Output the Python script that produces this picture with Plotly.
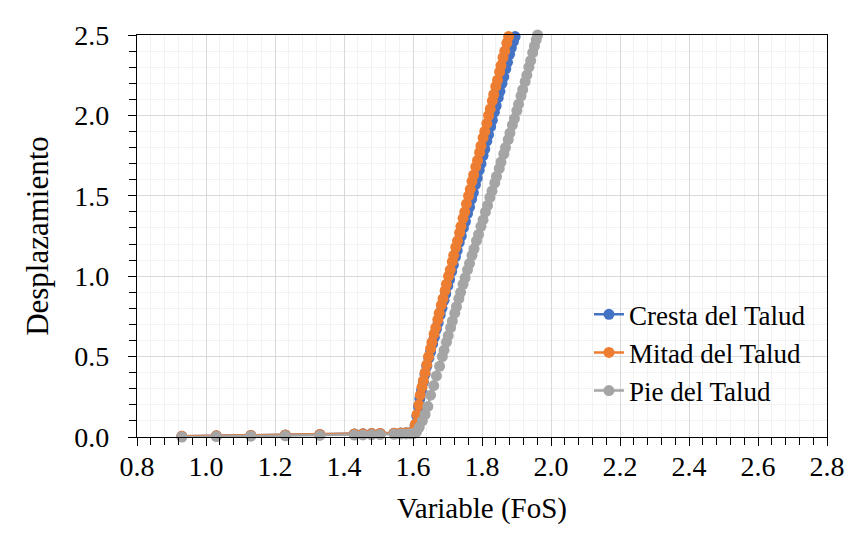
import plotly.graph_objects as go

# ---- data ----
flat_fos = [0.93, 1.03, 1.13, 1.23, 1.33, 1.43, 1.455, 1.48, 1.505, 1.545, 1.565, 1.58, 1.592]
cresta_flat_d = [0.004, 0.007, 0.010, 0.013, 0.016, 0.019, 0.020, 0.021, 0.022, 0.024, 0.025, 0.026, 0.027]
mitad_flat_d = [0.004, 0.007, 0.010, 0.013, 0.016, 0.019, 0.020, 0.021, 0.022, 0.024, 0.025, 0.026, 0.027]
pie_flat_d = [0.000, 0.003, 0.005, 0.007, 0.010, 0.012, 0.013, 0.014, 0.015, 0.017, 0.018, 0.019, 0.020]

cresta_rise_fos = [1.602, 1.606, 1.611, 1.616, 1.620, 1.625, 1.630, 1.635, 1.640, 1.646,
                   1.651, 1.657, 1.662, 1.668, 1.673, 1.679, 1.684, 1.690, 1.695, 1.701,
                   1.706, 1.712, 1.717, 1.723, 1.728, 1.734, 1.740, 1.746, 1.752, 1.758,
                   1.764, 1.770, 1.775, 1.781, 1.786, 1.792, 1.797, 1.803, 1.808, 1.814,
                   1.819, 1.825, 1.830, 1.836, 1.841, 1.847, 1.852, 1.858, 1.863, 1.869,
                   1.874, 1.880, 1.885, 1.891, 1.896]
cresta_rise_d = [0.03, 0.07, 0.13, 0.19, 0.24, 0.29, 0.34, 0.39, 0.44, 0.49,
                 0.53, 0.58, 0.62, 0.67, 0.71, 0.76, 0.80, 0.85, 0.89, 0.94,
                 0.98, 1.03, 1.07, 1.12, 1.16, 1.21, 1.25, 1.30, 1.34, 1.39,
                 1.43, 1.48, 1.52, 1.57, 1.61, 1.66, 1.70, 1.75, 1.79, 1.84,
                 1.88, 1.93, 1.97, 2.02, 2.06, 2.11, 2.15, 2.20, 2.24, 2.29,
                 2.33, 2.38, 2.42, 2.46, 2.49]

mitad_rise_fos = [1.603, 1.607, 1.612, 1.617, 1.621, 1.626, 1.630, 1.635, 1.640, 1.645,
                  1.651, 1.655, 1.661, 1.666, 1.672, 1.676, 1.682, 1.687, 1.693, 1.697,
                  1.703, 1.708, 1.714, 1.718, 1.724, 1.729, 1.735, 1.739, 1.745, 1.750,
                  1.755, 1.761, 1.766, 1.771, 1.776, 1.782, 1.787, 1.793, 1.797, 1.803,
                  1.808, 1.814, 1.819, 1.824, 1.830, 1.834, 1.840, 1.845, 1.851, 1.855,
                  1.861, 1.866, 1.872, 1.877]
mitad_rise_d = [0.04, 0.08, 0.14, 0.20, 0.26, 0.31, 0.35, 0.40, 0.45, 0.50,
                0.55, 0.59, 0.64, 0.68, 0.73, 0.77, 0.82, 0.86, 0.91, 0.95,
                1.00, 1.04, 1.09, 1.13, 1.18, 1.22, 1.27, 1.31, 1.36, 1.40,
                1.45, 1.50, 1.54, 1.59, 1.63, 1.68, 1.72, 1.77, 1.81, 1.86,
                1.90, 1.95, 2.00, 2.04, 2.09, 2.13, 2.18, 2.22, 2.27, 2.31,
                2.36, 2.40, 2.45, 2.49]

pie_rise_fos = [1.600, 1.610, 1.618, 1.627, 1.635, 1.643, 1.651, 1.660, 1.668, 1.677,
                1.685, 1.690, 1.697, 1.702, 1.709, 1.714, 1.721, 1.726, 1.733, 1.738,
                1.745, 1.751, 1.758, 1.764, 1.771, 1.777, 1.784, 1.790, 1.797, 1.803,
                1.810, 1.816, 1.823, 1.829, 1.837, 1.842, 1.850, 1.855, 1.863, 1.868,
                1.876, 1.881, 1.888, 1.894, 1.901, 1.906, 1.913, 1.918, 1.925, 1.930,
                1.936, 1.941, 1.947, 1.952, 1.957, 1.961]
pie_rise_d = [0.02, 0.03, 0.06, 0.10, 0.14, 0.19, 0.26, 0.32, 0.38, 0.44,
              0.50, 0.54, 0.59, 0.63, 0.68, 0.72, 0.77, 0.81, 0.86, 0.90,
              0.95, 0.99, 1.04, 1.08, 1.13, 1.17, 1.22, 1.26, 1.31, 1.35,
              1.40, 1.44, 1.49, 1.53, 1.58, 1.62, 1.67, 1.71, 1.76, 1.80,
              1.85, 1.89, 1.94, 1.98, 2.03, 2.07, 2.12, 2.16, 2.21, 2.25,
              2.30, 2.34, 2.39, 2.43, 2.47, 2.50]

series = [
    ("Cresta del Talud", "#4472C4", flat_fos + cresta_rise_fos, cresta_flat_d + cresta_rise_d),
    ("Mitad del Talud", "#ED7D31", flat_fos + mitad_rise_fos, mitad_flat_d + mitad_rise_d),
    ("Pie del Talud", "#A5A5A5", flat_fos + pie_rise_fos, pie_flat_d + pie_rise_d),
]

FONT = "Liberation Serif, Times New Roman, serif"

fig = go.Figure()
for i, (name, color, xs, ys) in enumerate(series):
    fig.add_trace(go.Scatter(
        x=xs, y=ys, name=name, mode="lines+markers",
        line=dict(color=color, width=2.5),
        marker=dict(color=color, size=11),
        cliponaxis=False, legendgroup=f"g{i}",
    ))

axis_common = dict(
    showline=True, linecolor="black", linewidth=1.2, mirror=True,
    ticks="outside", ticklen=8, tickcolor="black", tickwidth=1.2,
    showgrid=True, gridcolor="#d9d9d9", gridwidth=1,
    zeroline=False,
    tickfont=dict(family=FONT, size=28, color="black"),
)

fig.update_xaxes(
    range=[0.8, 2.8], dtick=0.2, tick0=0.8, tickformat=".1f",
    minor=dict(dtick=0.04, showgrid=True, gridcolor="#f2f2f2", ticks="outside",
               ticklen=7, tickcolor="black", tickwidth=1.2),
    title=dict(text="Variable (FoS)", font=dict(family=FONT, size=29, color="black"), standoff=16),
    ticklabelstandoff=-4,
    **axis_common,
)
fig.update_yaxes(
    range=[0, 2.5], dtick=0.5, tick0=0, tickformat=".1f",
    minor=dict(dtick=0.1, showgrid=True, gridcolor="#f2f2f2", ticks="outside",
               ticklen=7, tickcolor="black", tickwidth=1.2),
    title=dict(text="Desplazamiento", font=dict(family=FONT, size=31, color="black"), standoff=16),
    ticklabelstandoff=13,
    **axis_common,
)

fig.update_layout(
    width=853, height=534,
    margin=dict(l=129, r=34, t=24, b=105),
    paper_bgcolor="white", plot_bgcolor="white",
    showlegend=True,
    legend=dict(
        x=0.655, y=0.365, xanchor="left", yanchor="top",
        bgcolor="rgba(0,0,0,0)", font=dict(family=FONT, size=27, color="black"),
        tracegroupgap=0, itemwidth=30,
    ),
)

fig.write_html("out.html")
